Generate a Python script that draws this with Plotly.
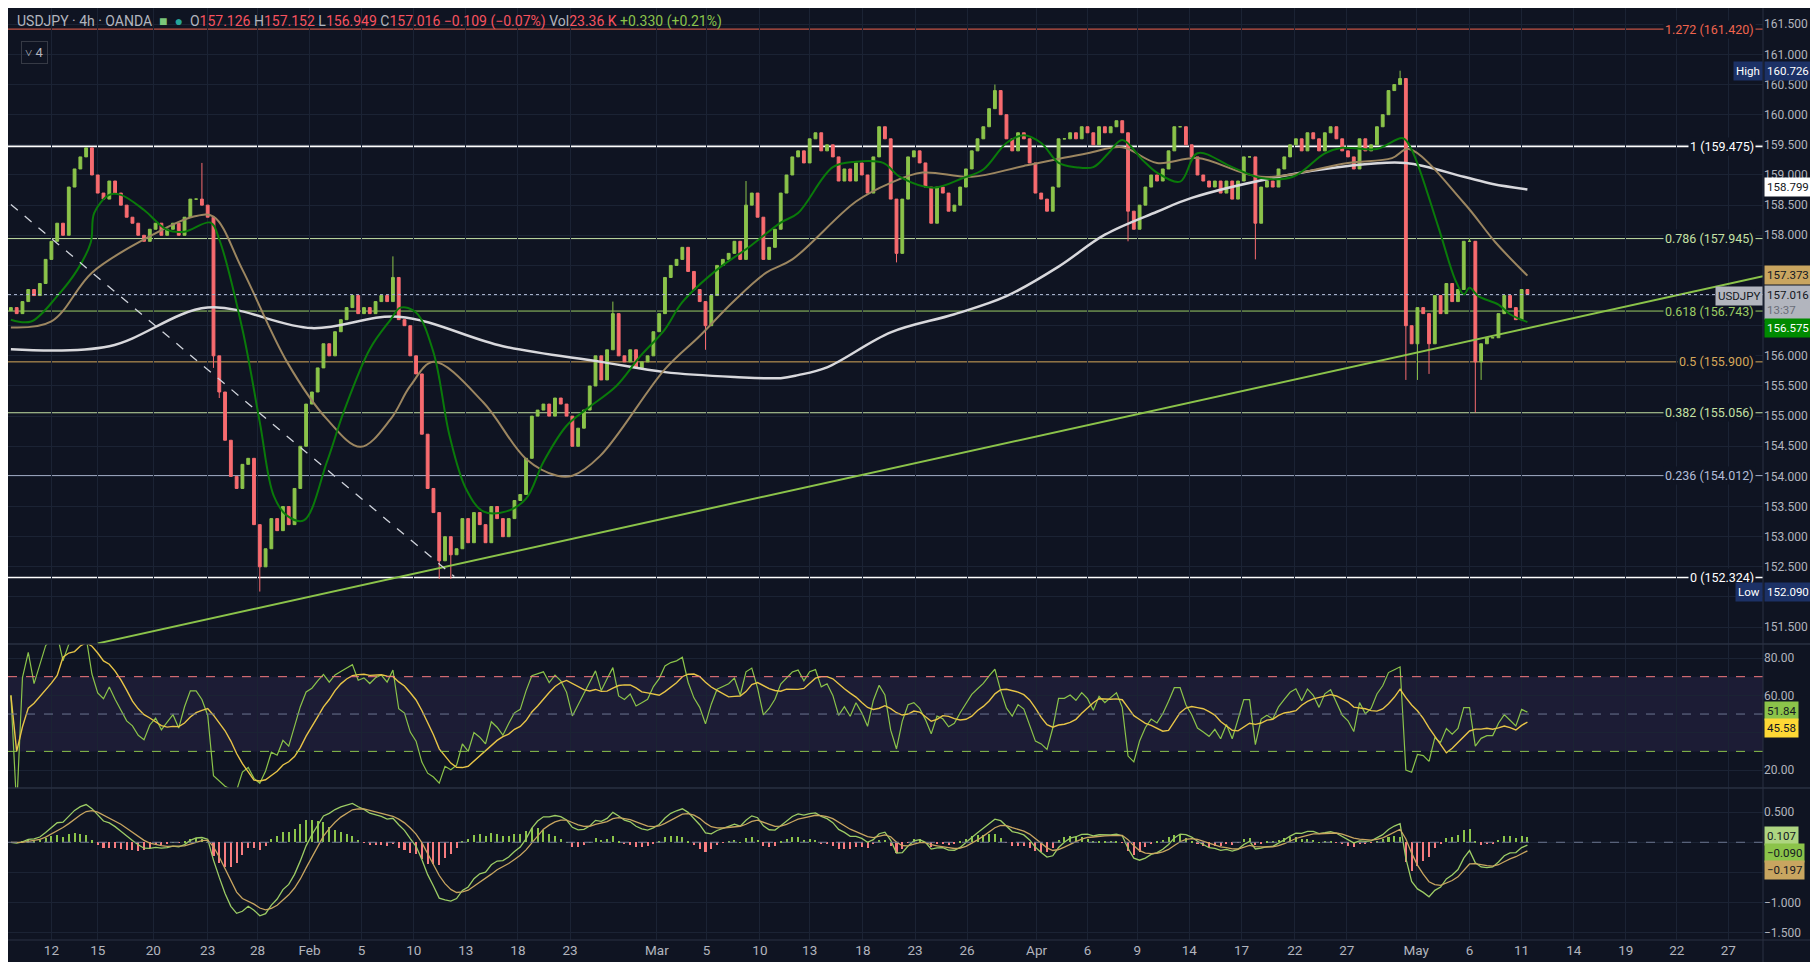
import plotly.graph_objects as go
import pandas as pd
import numpy as np

# ---------------- data ----------------
closes = [
156.8,156.7,156.9,157.1,157.0,157.2,157.6,157.9,158.2,158.0,
158.8,159.1,159.3,159.45,159.0,158.7,158.6,158.9,158.7,158.5,
158.3,158.2,158.0,157.9,158.1,158.2,158.0,158.1,158.2,158.0,
158.3,158.6,158.6,158.5,158.3,156.0,155.4,154.6,154.0,153.8,
154.2,154.3,153.2,152.5,152.8,153.3,153.1,153.5,153.2,153.8,
154.5,155.2,155.4,155.8,156.2,156.0,156.4,156.6,156.8,157.0,
156.7,156.8,156.7,156.9,157.0,156.9,157.3,156.6,156.5,156.0,
155.7,154.7,153.8,153.4,152.6,153.0,152.7,152.8,153.3,152.9,
153.4,153.2,152.9,153.5,153.3,153.0,153.3,153.6,153.7,154.3,
155.0,155.1,155.2,155.0,155.3,155.2,155.0,154.5,154.8,155.1,
155.5,156.0,155.6,156.1,156.7,156.0,155.9,156.1,155.8,155.9,
156.0,156.4,156.7,157.3,157.5,157.6,157.8,157.4,157.1,156.9,
156.5,157.0,157.5,157.6,157.7,157.9,157.6,158.5,158.7,158.3,
157.6,157.8,158.1,158.7,159.0,159.3,159.4,159.2,159.6,159.7,
159.4,159.5,159.3,158.9,159.1,158.9,159.2,159.0,158.7,159.3,
159.8,159.6,158.6,157.7,158.6,159.3,159.4,159.2,158.8,158.2,
158.8,158.7,158.4,158.5,158.8,159.1,159.4,159.6,159.8,160.1,
160.4,160.0,159.6,159.4,159.7,159.6,159.2,158.7,158.6,158.4,
158.8,159.6,159.6,159.7,159.6,159.8,159.7,159.5,159.8,159.7,
159.8,159.9,159.7,158.4,158.1,158.5,158.8,159.0,158.9,159.1,
159.4,159.8,159.8,159.5,159.3,159.0,158.9,158.8,158.9,158.7,
158.9,158.6,158.9,159.3,159.3,158.2,158.8,158.9,158.8,159.1,
159.3,159.5,159.6,159.4,159.7,159.6,159.4,159.7,159.8,159.6,
159.4,159.3,159.1,159.6,159.4,159.5,159.8,160.0,160.4,160.5,
160.6,156.5,156.2,156.8,156.7,156.2,157.0,156.7,157.2,156.9,
157.1,157.9,157.9,155.9,156.2,156.3,156.3,156.7,157.0,156.8,
156.6,157.1,157.02,
]
first_open = 156.75
wick_high = {33: 159.2, 66: 157.65, 104: 156.9, 127: 158.9, 170: 160.5, 240: 160.73, 252: 157.95}
wick_low = {35: 155.8, 36: 155.3, 43: 152.09, 74: 152.3, 76: 152.3, 120: 156.1, 153: 157.55,
            193: 157.9, 215: 157.6, 241: 155.6, 243: 155.6, 245: 155.7, 253: 155.06, 254: 155.6}

# moving averages (bar index, price)
ma200_x = [0,17,34,52,67,85,102,113,125,133,136,141,152,163,172,181,189,198,204,219,231,241,251,256,262]
ma200_y = [156.11,156.16,156.8,156.46,156.65,156.16,155.9,155.73,155.65,155.63,155.68,155.81,156.39,156.69,
           156.99,157.48,158.01,158.39,158.62,158.97,159.15,159.2,158.97,158.85,158.76]
ma50_x = [0,7,14,23,31.6,35,40,47.7,54.6,60.4,65.6,69,73,81.6,89,94.4,97,101.8,113,119,124.7,130.5,135,146,152,
          157.5,166,175,186,192,198,205,216,231,238.6,241.5,251,256.5,262]
ma50_y = [156.47,156.57,157.38,157.93,158.31,158.31,157.43,155.9,154.95,154.49,154.95,155.5,155.9,155.23,154.29,
          154.01,154.01,154.34,155.78,156.33,156.89,157.38,157.6,158.56,158.87,159.04,158.97,159.15,159.36,159.46,
          159.2,159.28,158.97,159.2,159.28,159.43,158.54,157.88,157.33]
ma20_x = [0,3.5,8,11.5,13.8,14.4,17,19,23,27,30,34.5,36,40,43,45.4,47.7,50.6,54.6,57.5,62,65.6,67.3,70,73,75.8,
          78.6,81.6,85.6,89,92,96,99.5,104.6,108.7,113,116,122,127.6,133,136,142,146,150.7,153.6,159.4,164.5,168,
          172,175,178,181,184,187,189.6,192,195.5,198,202,205,211,216,221.5,227,230,236,240.5,242,246.6,249.5,251,
          252,253.5,257,259,262]
ma20_y = [156.6,156.57,156.99,157.43,157.88,158.37,158.67,158.67,158.42,158.09,158.06,158.21,157.93,156.44,154.9,
          153.68,153.35,153.27,154.24,155.07,156.11,156.6,156.8,156.72,156.06,154.67,153.8,153.42,153.42,153.63,
          154.24,154.84,155.12,155.5,155.99,156.44,156.89,157.43,157.81,158.21,158.37,159.13,159.22,159.2,158.97,
          158.79,158.95,159.09,159.53,159.66,159.53,159.2,159.13,159.13,159.36,159.58,159.25,159.04,158.89,159.36,
          159.13,158.95,158.97,159.36,159.45,159.43,159.61,159.42,158.14,157.27,157.02,157.13,156.99,156.85,156.69,
          156.56]

trend_x = [15, 302.7]
trend_y = [151.23, 157.32]
diag_x = [0, 76.6]
diag_y = [158.51, 152.34]

fib_ratio = ["1.272", "1", "0.786", "0.618", "0.5", "0.382", "0.236", "0"]
fib_price = [161.420, 159.475, 157.945, 156.743, 155.900, 155.056, 154.012, 152.324]
fib_color = ["#f0644e", "#ffffff", "#c5e1a5", "#9ccc65", "#d6a85a", "#c5e1a5", "#b2bdd8", "#ffffff"]
fib_width = [1, 1.6, 1, 1, 1, 1, 1, 1.6]

price_ticks = [151.5 + 0.5*k for k in range(21)]
hidden_price_ticks = [152.0, 157.5]   # covered by the Low / EMA labels in the reference

tick_pos = [7,15,24.6,34,42.6,51.6,60.6,69.6,78.6,87.6,96.6,111.6,120.2,129.4,138,147.2,156.2,165.2,177.2,186,
            194.6,203.6,212.6,221.8,230.8,242.8,252,261,270,279,287.8,296.7]
tick_txt = ["12","15","20","23","28","Feb","5","10","13","18","23","Mar","5","10","13","18","23","26","Apr","6",
            "9","14","17","22","27","May","6","11","14","19","22","27"]

# ---------------- derived ----------------
n = len(closes)
idx = list(range(n))
opens = [first_open] + closes[:-1]
highs = [wick_high.get(i, max(opens[i], closes[i])) for i in idx]
lows = [wick_low.get(i, min(opens[i], closes[i])) for i in idx]

s = pd.Series(closes)
d = s.diff().fillna(0)
up = d.clip(lower=0).ewm(alpha=1/8, adjust=True).mean()
dn = (-d.clip(upper=0)).ewm(alpha=1/8, adjust=True).mean()
rsi = 100 - 100/(1 + up/dn.replace(0, np.nan))
rsi = rsi.fillna(60)
rsi_ma = rsi.rolling(8, min_periods=1).mean()
macd = s.ewm(span=6, adjust=False).mean() - s.ewm(span=13, adjust=False).mean()
sig = macd.ewm(span=5, adjust=False).mean()
hist = macd - sig

BG = "#0f1422"
GRID = "#1b2334"
TXT = "#b2b5be"
UP = "#8bc34a"
DN = "#f76b6f"
FONT = "Roboto"

fig = go.Figure()
fig.add_trace(go.Candlestick(x=idx, open=opens, high=highs, low=lows, close=closes,
    increasing=dict(line=dict(color=UP, width=1), fillcolor=UP),
    decreasing=dict(line=dict(color=DN, width=1), fillcolor=DN),
    whiskerwidth=0, xaxis="x", yaxis="y", hoverinfo="skip"))
fig.add_trace(go.Scatter(x=ma200_x, y=ma200_y, mode="lines", line=dict(color="#d8d8dc", width=2.5, shape="spline"), yaxis="y"))
fig.add_trace(go.Scatter(x=ma50_x, y=ma50_y, mode="lines", line=dict(color="#9c8660", width=2, shape="spline"), yaxis="y"))
fig.add_trace(go.Scatter(x=ma20_x, y=ma20_y, mode="lines", line=dict(color="#0a7a0a", width=2, shape="spline"), yaxis="y"))
fig.add_trace(go.Scatter(x=trend_x, y=trend_y, mode="lines", line=dict(color="#8bc34a", width=2), yaxis="y"))
fig.add_trace(go.Scatter(x=diag_x, y=diag_y, mode="lines", line=dict(color="#d0d4dc", width=1.3, dash="dash"), yaxis="y"))

fig.add_trace(go.Scatter(x=idx, y=rsi, mode="lines", line=dict(color="#8bc34a", width=1.2), yaxis="y2"))
fig.add_trace(go.Scatter(x=idx, y=rsi_ma, mode="lines", line=dict(color="#e8c547", width=1.4), yaxis="y2"))
fig.add_trace(go.Bar(x=idx, y=hist, marker=dict(color=[UP if v >= 0 else "#f77c80" for v in hist], line_width=0),
                     width=0.35, yaxis="y3"))
fig.add_trace(go.Scatter(x=idx, y=macd, mode="lines", line=dict(color="#9ccc65", width=1.3), yaxis="y3"))
fig.add_trace(go.Scatter(x=idx, y=sig, mode="lines", line=dict(color="#c8a560", width=1.3), yaxis="y3"))

XD = 1755/1818
shapes = []
annots = []
for r, p, c, w in zip(fib_ratio, fib_price, fib_color, fib_width):
    shapes.append(dict(type="line", xref="paper", x0=0, x1=XD, yref="y", y0=p, y1=p, line=dict(color=c, width=w), layer="below"))
    annots.append(dict(xref="paper", x=XD - 0.004, xanchor="right", yref="y", y=p, text=f"{r} ({p:.3f})",
                       showarrow=False, font=dict(color=c, size=12.5, family=FONT), bgcolor=BG, borderpad=1))
shapes.append(dict(type="line", xref="paper", x0=0, x1=XD, yref="y", y0=157.016, y1=157.016,
                   line=dict(color="#b2bdd8", width=1, dash="dot")))
shapes.append(dict(type="rect", xref="paper", x0=0, x1=XD, yref="y2", y0=30, y1=70, fillcolor="rgba(126,87,194,0.12)", line_width=0, layer="below"))
for v, c in [(70, "#f77c80"), (50, "#6b7590"), (30, "#8bc34a")]:
    shapes.append(dict(type="line", xref="paper", x0=0, x1=XD, yref="y2", y0=v, y1=v, line=dict(color=c, width=1, dash="dash")))
shapes.append(dict(type="line", xref="paper", x0=0, x1=XD, yref="y3", y0=0, y1=0, line=dict(color="#6b7590", width=1, dash="dash")))
for yy in [0.3176, 0.1631]:
    shapes.append(dict(type="line", xref="paper", x0=0, x1=1, yref="paper", y0=yy, y1=yy, line=dict(color="#2a3142", width=1.5)))
shapes.append(dict(type="line", xref="paper", x0=XD, x1=XD, yref="paper", y0=-0.035, y1=1, line=dict(color="#2a3142", width=1)))
shapes.append(dict(type="line", xref="paper", x0=0, x1=1, yref="paper", y0=0, y1=0, line=dict(color="#2a3142", width=1)))

LF = 11.5
def axlabel(y, yref, text, bg, fg):
    annots.append(dict(xref="paper", x=XD + 0.0008, xanchor="left", yref=yref, y=y, text=text, showarrow=False,
                       bgcolor=bg, font=dict(color=fg, size=LF, family=FONT), borderpad=2, align="left"))

def leftlabel(y, text, bg, fg):
    annots.append(dict(xref="paper", x=XD, xanchor="right", yref="y", y=y, text=text, showarrow=False,
                       bgcolor=bg, font=dict(color=fg, size=LF, family=FONT), borderpad=2))

axlabel(160.726, "y", "160.726", "#1c3166", "#ffffff")
leftlabel(160.726, "High", "#1c3166", "#ffffff")
axlabel(158.799, "y", "158.799", "#ffffff", "#131722")
axlabel(157.34, "y", "157.373", "#c9a560", "#131722")
axlabel(156.88, "y", "157.016<br><span style='color:#6a6d78'>13:37</span>", "#b2b5be", "#131722")
leftlabel(157.0, "USDJPY", "#b2b5be", "#131722")
axlabel(156.47, "y", "156.575", "#008a00", "#ffffff")
axlabel(152.090, "y", "152.090", "#1c3166", "#ffffff")
leftlabel(152.090, "Low", "#1c3166", "#ffffff")
axlabel(51.6, "y2", "51.84", "#8bc34a", "#131722")
axlabel(42.6, "y2", "45.58", "#fdd835", "#131722")
axlabel(0.10, "y3", "0.107", "#aed581", "#131722")
axlabel(-0.18, "y3", "−0.090", "#8bc34a", "#131722")
axlabel(-0.46, "y3", "−0.197", "#c8a560", "#131722")

red = "#f7525f"
legend = (f"<span style='color:{TXT}'>USDJPY · 4h · OANDA</span>  <span style='color:#7bc67b'>■</span>  "
          f"<span style='color:#26a69a'>●</span>  "
          f"<span style='color:{TXT}'>O</span><span style='color:{red}'>157.126</span> "
          f"<span style='color:{TXT}'>H</span><span style='color:{red}'>157.152</span> "
          f"<span style='color:{TXT}'>L</span><span style='color:{red}'>156.949</span> "
          f"<span style='color:{TXT}'>C</span><span style='color:{red}'>157.016</span> "
          f"<span style='color:{red}'>−0.109 (−0.07%)</span> "
          f"<span style='color:{TXT}'>Vol</span><span style='color:{red}'>23.36 K</span> "
          f"<span style='color:#8bc34a'>+0.330 (+0.21%)</span>")
annots.append(dict(xref="paper", yref="paper", x=0.004, y=0.997, xanchor="left", yanchor="top", text=legend,
                   showarrow=False, font=dict(size=14, family=FONT)))
annots.append(dict(xref="paper", yref="paper", x=0.007, y=0.965, xanchor="left", yanchor="top", text="˅ 4",
                   showarrow=False, font=dict(size=13, color=TXT, family=FONT), bordercolor="#363a45",
                   borderwidth=1, borderpad=3))

grid = dict(showgrid=True, gridcolor=GRID, zeroline=False, showline=False)
TF = dict(size=12, color=TXT, family=FONT)
fig.update_layout(
    width=1818, height=962, paper_bgcolor=BG, plot_bgcolor=BG, showlegend=False,
    margin=dict(l=0, r=0, t=0, b=30), font=dict(family=FONT, color=TXT, size=13),
    shapes=shapes, annotations=annots, bargap=0,
    xaxis=dict(domain=[0, XD], range=[-0.5, 302.7], anchor="y3", tickvals=tick_pos, ticktext=tick_txt,
               rangeslider=dict(visible=False), ticks="", tickfont=dict(size=13.5, color=TXT, family=FONT), **grid),
    yaxis=dict(domain=[0.3176, 1], range=[151.22, 161.77], side="right", anchor="x",
               tickvals=price_ticks,
               ticktext=["" if t in hidden_price_ticks else f"{t:.3f}" for t in price_ticks],
               ticks="", tickfont=TF, **grid),
    yaxis2=dict(domain=[0.1631, 0.3176], range=[10.4, 87.5], side="right", anchor="x",
                tickvals=[20, 40, 60, 80], ticktext=["20.00", "", "60.00", "80.00"], ticks="", tickfont=TF, **grid),
    yaxis3=dict(domain=[0, 0.1631], range=[-1.62, 0.90], side="right", anchor="x",
                tickvals=[0.5, 0, -0.5, -1.0, -1.5], ticktext=["0.500", "", "", "−1.000", "−1.500"], ticks="",
                tickfont=TF, **grid),
)
fig.write_html("out.html")
